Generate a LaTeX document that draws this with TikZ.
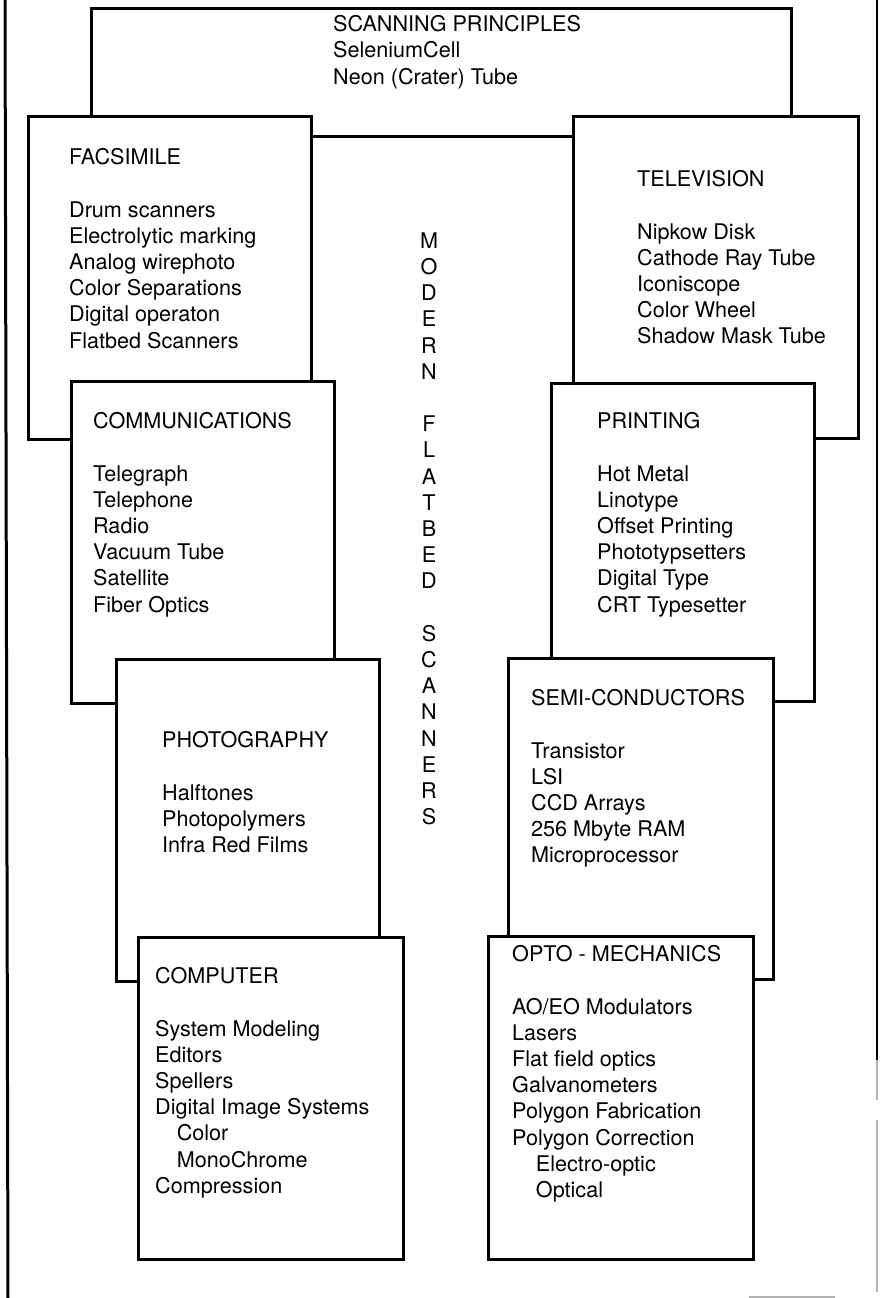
\documentclass[tikz,border=0pt]{standalone}
\usepackage{fontspec}
\setmainfont{TeX Gyre Heros}

\begin{document}
\begin{tikzpicture}[x=1pt,y=-1pt,
  panel/.style={draw, line width=3pt, fill=white, anchor=north west, inner sep=0pt},
  list/.style={anchor=north west, yshift=15.7pt, align=left, inner sep=0pt,
    font=\fontsize{21.6}{26.2}\selectfont},
  edge/.style={line width=3pt},
  faint/.style={line width=1.5pt, gray!60}]
  \useasboundingbox (0,0) rectangle (881,1298);

  % page edges
  \draw[edge] (5,0) -- (8,1298);
  \draw[line width=2pt] (877,0) -- (877,1060);
  \draw[faint] (877,1060) -- (877,1100);
  \draw[faint] (877,1120) -- (877,1292);
  \draw[faint] (749,1297) -- (835,1297);

  \node[panel, minimum width=700, minimum height=128] (scan) at (90,7) {};
  \node[list] (scant) at (333,31) {SCANNING PRINCIPLES\\SeleniumCell\\Neon (Crater) Tube};

  \node[panel, minimum width=283, minimum height=323] (fax) at (27,115) {};
  \node[list] (faxt) at (69,164) {FACSIMILE\\[26.2pt]Drum scanners\\Electrolytic marking\\
    Analog wirephoto\\Color Separations\\Digital operaton\\Flatbed Scanners};

  \node[panel, minimum width=285, minimum height=322] (tv) at (572,115) {};
  \node[list] (tvt) at (637,186) {TELEVISION\\[26.2pt]Nipkow Disk\\Cathode Ray Tube\\
    Iconiscope\\Color Wheel\\Shadow Mask Tube};

  \node[panel, minimum width=263, minimum height=322] (comm) at (70,380) {};
  \node[list] (commt) at (93,428) {COMMUNICATIONS\\[26.2pt]Telegraph\\Telephone\\Radio\\
    Vacuum Tube\\Satellite\\Fiber Optics};

  \node[panel, minimum width=263, minimum height=318] (print) at (550,382) {};
  \node[list] (printt) at (597,428) {PRINTING\\[26.2pt]Hot Metal\\Linotype\\Offset Printing\\
    Phototypsetters\\Digital Type\\CRT Typesetter};

  \node[panel, minimum width=263, minimum height=322] (photo) at (115,658) {};
  \node[list] (photot) at (162,747) {PHOTOGRAPHY\\[26.2pt]Halftones\\Photopolymers\\
    Infra Red Films};

  \node[panel, minimum width=265, minimum height=321] (semi) at (507,657) {};
  \node[list] (semit) at (531,705) {SEMI-CONDUCTORS\\[26.2pt]Transistor\\LSI\\CCD Arrays\\
    256 Mbyte RAM\\Microprocessor};

  \node[panel, minimum width=265, minimum height=322] (comp) at (137,936) {};
  \node[list] (compt) at (155,983) {COMPUTER\\[26.2pt]System Modeling\\Editors\\Spellers\\
    Digital Image Systems\\\hspace*{1em}Color\\\hspace*{1em}MonoChrome\\Compression};

  \node[panel, minimum width=265, minimum height=323] (opto) at (487,935) {};
  \node[list] (optot) at (512,961) {OPTO - MECHANICS\\[26.2pt]AO/EO Modulators\\Lasers\\
    Flat field optics\\Galvanometers\\Polygon Fabrication\\Polygon Correction\\
    \hspace*{1.1em}Electro-optic\\\hspace*{1.1em}Optical};

  \node[list, anchor=north, align=center] (mfs) at (429,248) {M\\O\\D\\E\\R\\N\\[26.2pt]
    F\\L\\A\\T\\B\\E\\D\\[26.2pt]S\\C\\A\\N\\N\\E\\R\\S};
\end{tikzpicture}
\end{document}
